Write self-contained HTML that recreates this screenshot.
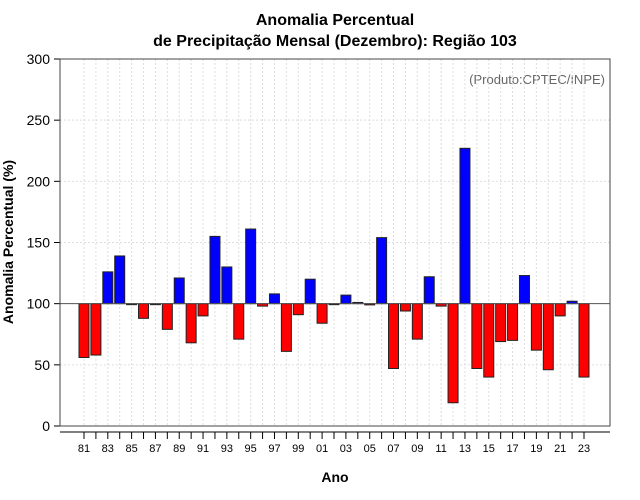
<!DOCTYPE html>
<html><head><meta charset="utf-8"><style>
body{margin:0;background:#fff;}
svg{display:block;font-family:"Liberation Sans",sans-serif;}
</style></head><body>
<svg id="chart" width="640" height="500" xmlns="http://www.w3.org/2000/svg">
<text x="335" y="25" text-anchor="middle" font-size="16" font-weight="bold">Anomalia Percentual</text>
<text x="335" y="46" text-anchor="middle" font-size="16" font-weight="bold">de Precipitação Mensal (Dezembro): Região 103</text>
<text x="605" y="84" text-anchor="end" font-size="13" fill="#666">(Produto:CPTEC/INPE)</text>
<text x="335" y="482" text-anchor="middle" font-size="14" font-weight="bold">Ano</text>
<text transform="translate(13,242) rotate(-90)" text-anchor="middle" font-size="14" font-weight="bold">Anomalia Percentual (%)</text>
<g id="grid"></g><g id="bars"></g><g id="axes"></g>
</svg>
<script>
const years = ["81","82","83","84","85","86","87","88","89","90","91","92","93","94","95","96","97","98","99","00","01","02","03","04","05","06","07","08","09","10","11","12","13","14","15","16","17","18","19","20","21","22","23"];
const values = [56,58,126,139,100,88,100,79,121,68,90,155,130,71,161,98,108,61,91,120,84,100,107,101,99,154,47,94,71,122,98,19,227,47,40,69,70,123,62,46,90,102,40];
const yTicks = [0,50,100,150,200,250,300];
const NS="http://www.w3.org/2000/svg";
const L=60,R=610,T=59,B=426;
const y=v=>B-(v/300)*(B-T);
const x=i=>84+i*(584-84)/42;
function mk(t,a,p){const e=document.createElementNS(NS,t);for(const k in a)e.setAttribute(k,a[k]);p.appendChild(e);return e;}
const grid=document.getElementById('grid'),bars=document.getElementById('bars'),axes=document.getElementById('axes');
yTicks.forEach(v=>{
 const g=mk('line',{x1:L,x2:R,y1:y(v),y2:y(v),stroke:'#ddd','stroke-dasharray':'2,2'},grid);
 
 
 const t=mk('line',{x1:L-6,x2:L,y1:y(v),y2:y(v),stroke:'#000'},axes);
 
 
 const l=mk('text',{x:L-10,y:y(v)+5,'text-anchor':'end','font-size':14},axes);
 l.textContent=v;
 
 
});
years.forEach((yr,i)=>{
 const g=mk('line',{x1:x(i),x2:x(i),y1:T,y2:B,stroke:'#ddd','stroke-dasharray':'2,2'},grid);
 
 
 const v=values[i];
 const top=Math.min(y(v),y(100)),h=Math.max(Math.abs(y(v)-y(100)),1);
 const b=mk('rect',{x:x(i)-5,y:top,width:10,height:h,fill:v>=100?'#0000ff':'#ff0000',stroke:'#222','stroke-width':1},bars);
 
 
 const t=mk('line',{x1:x(i),x2:x(i),y1:B+6,y2:B+13,stroke:'#000'},axes);
 
 
 if(i%2===0){
  const l=mk('text',{x:x(i),y:B+26,'text-anchor':'middle','font-size':11},axes);
  l.textContent=yr;
  
  
 }
});
const bl=mk('line',{x1:L,x2:R,y1:y(100),y2:y(100),stroke:'#555','stroke-width':1},axes);


const xa=mk('line',{x1:L,x2:R,y1:B+6,y2:B+6,stroke:'#000'},axes);


const fr=mk('rect',{x:L,y:T,width:R-L,height:B-T,fill:'none',stroke:'#444'},axes);


</script>
</body></html>
